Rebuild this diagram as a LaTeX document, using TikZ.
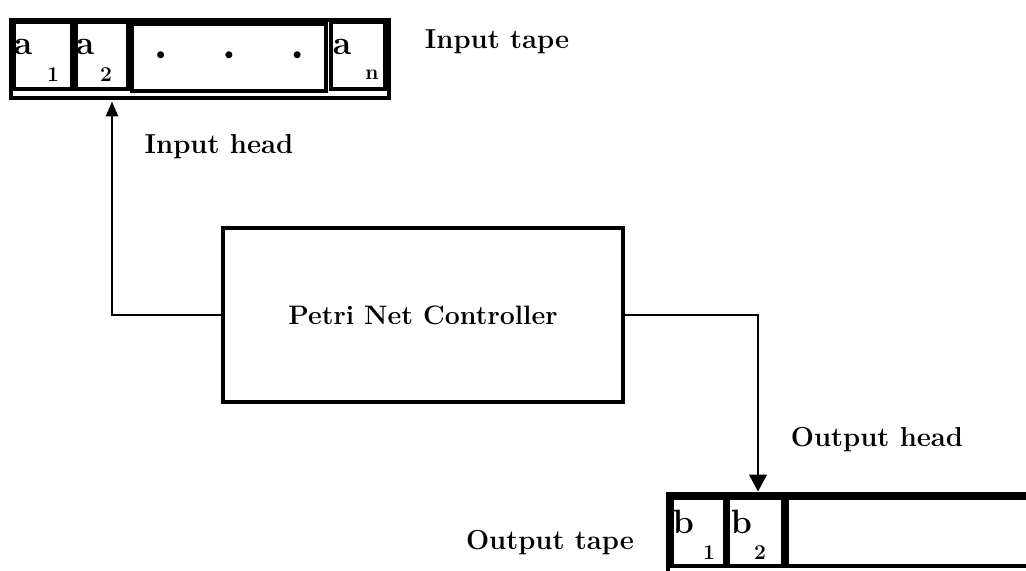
\documentclass[tikz,border=0pt]{standalone}
\usepackage{tikz}
\usetikzlibrary{arrows.meta}

\begin{document}
\begin{tikzpicture}[x=0.025cm, y=-0.025cm,
        tape/.style={draw, line width=3pt, inner sep=0pt},
        cell/.style={draw, line width=2.2pt, inner sep=0pt},
        ctrlbox/.style={draw, line width=3pt, inner sep=0pt, minimum width=10cm, minimum height=4.35cm,
            font=\fontsize{19}{22}\selectfont\bfseries},
        lbl/.style={inner sep=1pt, font=\fontsize{19.5}{22}\selectfont\bfseries},
        sym/.style={inner sep=0pt, font=\fontsize{24}{26}\selectfont\bfseries},
        idx/.style={inner sep=0pt, font=\fontsize{15}{17}\selectfont\bfseries},
        conn/.style={line width=1.5pt}]
        \useasboundingbox (0,0) rectangle (1026,571);
        \fill[white] (0,0) rectangle (1026,571);
        \clip (0,0) rectangle (1026,571);

        % Input tape
        \node[tape, minimum width=9.45cm, minimum height=1.95cm] (intape) at (200,59) {};
        \node[cell, minimum width=1.45cm, minimum height=1.675cm] (a1) at (43,55.5) {};
        \node[cell, minimum width=1.3cm, minimum height=1.675cm] (a2) at (102,55.5) {};
        \node[cell, minimum width=4.85cm, minimum height=1.675cm,
            font=\fontsize{22}{24}\selectfont] (dots) at (229,57.5)
            {\textbullet\hspace{1.15cm}\textbullet\hspace{1.15cm}\textbullet};
        \node[cell, minimum width=1.35cm, minimum height=1.675cm] (an) at (358,55.5) {};
        \node[sym] (a1s) at ([shift={(-20,-8.5)}]a1.center) {a};
        \node[idx] (a1i) at ([shift={(10,19)}]a1.center) {1};
        \node[sym] (a2s) at ([shift={(-17,-8.5)}]a2.center) {a};
        \node[idx] (a2i) at ([shift={(4,19)}]a2.center) {2};
        \node[sym] (ans) at ([shift={(-16,-8.5)}]an.center) {a};
        \node[idx] (ani) at ([shift={(14,19)}]an.center) {n};
        \node[lbl] (intapelbl) at (497,42) {Input tape};

        % Controller
        \node[ctrlbox] (ctrl) at (423,315) {Petri Net Controller};

        % Input head
        \coordinate (ihead) at (112,101.5);
        \draw[conn, -{Triangle[width=8.5pt,length=10.5pt]}] (ctrl.west) -| (ihead);
        \node[lbl] (inheadlbl) at (219,147) {Input head};

        % Output tape
        \node[tape, minimum width=9.3cm, minimum height=2.1cm] (outtape) at (854,536) {};
        \node[cell, minimum width=1.325cm, minimum height=1.7cm] (b1) at (698.5,532) {};
        \node[cell, minimum width=1.375cm, minimum height=1.7cm] (b2) at (755.5,532) {};
        \node[cell, minimum width=6.325cm, minimum height=1.7cm] (brest) at (913.5,532) {};
        \node[sym] (b1s) at ([shift={(-15,-10)}]b1.center) {b};
        \node[idx] (b1i) at ([shift={(10.5,21)}]b1.center) {1};
        \node[sym] (b2s) at ([shift={(-14,-10)}]b2.center) {b};
        \node[idx] (b2i) at ([shift={(4.5,21)}]b2.center) {2};
        \node[lbl] (outtapelbl) at (550,543) {Output tape};

        % Output head
        \coordinate (ohead) at (758,491.5);
        \draw[conn, -{Triangle[width=12.5pt,length=12pt]}] (ctrl.east) -| (ohead);
        \node[lbl] (outheadlbl) at (877,440) {Output head};
    \end{tikzpicture}
\end{document}
